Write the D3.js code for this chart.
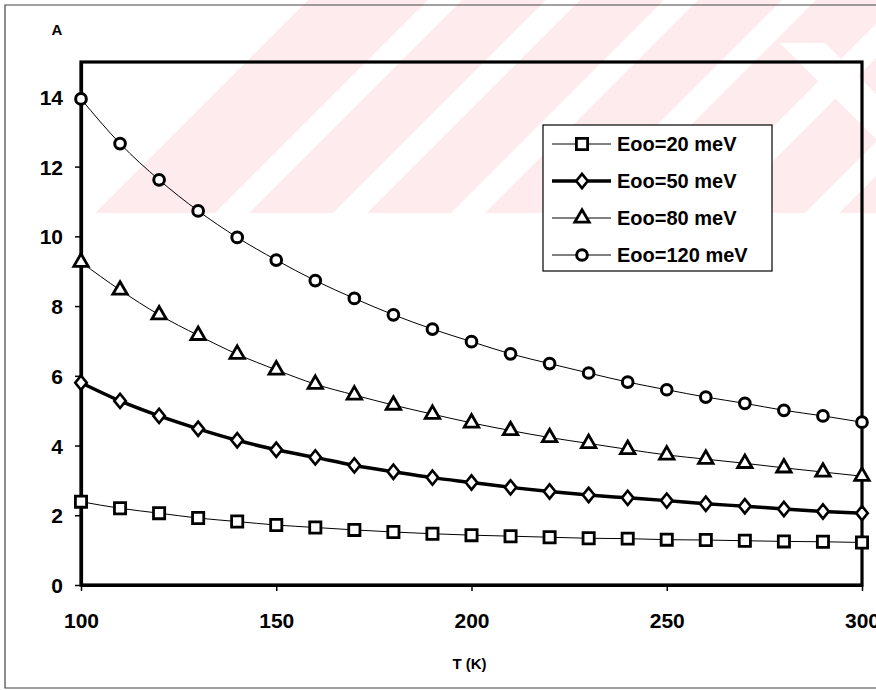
<!DOCTYPE html>
<html>
<head>
<meta charset="utf-8">
<script src="https://cdn.jsdelivr.net/npm/d3@7"></script>
<style>
  html, body { margin: 0; padding: 0; background: #fff; }
  svg { display: block; font-family: "Liberation Sans", Arial, sans-serif; }
</style>
</head>
<body>
<svg id="chart" width="876" height="690"></svg>
<script>
// Temperature grid (K)
const temps = [100, 110, 120, 130, 140, 150, 160, 170, 180, 190, 200,
               210, 220, 230, 240, 250, 260, 270, 280, 290, 300];

// A versus T for each characteristic energy Eoo
const a20  = [2.39, 2.20, 2.06, 1.92, 1.82, 1.72, 1.65, 1.58, 1.52, 1.47, 1.43,
              1.40, 1.37, 1.34, 1.33, 1.30, 1.29, 1.27, 1.25, 1.24, 1.22];
const a50  = [5.80, 5.28, 4.85, 4.48, 4.15, 3.88, 3.66, 3.43, 3.25, 3.08, 2.94,
              2.80, 2.68, 2.58, 2.50, 2.42, 2.33, 2.26, 2.18, 2.11, 2.06];
const a80  = [9.26, 8.46, 7.75, 7.16, 6.62, 6.17, 5.76, 5.45, 5.16, 4.90, 4.65,
              4.43, 4.23, 4.06, 3.89, 3.73, 3.61, 3.49, 3.36, 3.24, 3.12];
const a120 = [13.94, 12.66, 11.62, 10.73, 9.97, 9.32, 8.73, 8.22, 7.75, 7.34, 6.98,
              6.63, 6.35, 6.08, 5.82, 5.60, 5.39, 5.21, 5.01, 4.85, 4.67];

const seriesNames = ["Eoo=20 meV", "Eoo=50 meV", "Eoo=80 meV", "Eoo=120 meV"];
const seriesValues = [a20, a50, a80, a120];
const seriesSymbols = ["square", "diamond", "triangle", "circle"];

const xTicks = [100, 150, 200, 250, 300];
const yTicks = [0, 2, 4, 6, 8, 10, 12, 14];
const xTitle = "T (K)";
const panelLabel = "A";

const svg = d3.select("#chart");
const W = 876, H = 690;
const plot = { left: 81, right: 862, top: 62, bottom: 585 };

// Faint background emblem: pale red field with diagonal white gaps
const bandH = 213;
const wm = svg.append("g");
const pink = "#fdebee";
wm.append("path")
  .attr("d", `M95,${bandH} L${95 + bandH},0 L${W},0 L${W},${bandH} Z`)
  .attr("fill", pink);
// "/" gaps
for (let k = 0; k < 7; k++) {
  const x0 = 215 + k * 118;
  const w = 34;
  wm.append("path")
    .attr("d", `M${x0},${bandH} L${x0 + w},${bandH} L${x0 + w + bandH},0 L${x0 + bandH},0 Z`)
    .attr("fill", "#fff");
}
// "\" gap on the right
[[780, 43]].forEach(([gx0, gy0]) => {
  const w = 45;
  const len = 400;
  wm.append("path")
    .attr("d", `M${gx0},${gy0} L${gx0 + w},${gy0} L${gx0 + w + len},${gy0 + len} L${gx0 + len},${gy0 + len} Z`)
    .attr("fill", "#fff");
});
// keep it inside the band
wm.append("rect").attr("x", 0).attr("y", bandH).attr("width", W).attr("height", H - bandH).attr("fill", "#fff");

// Outer frame
svg.append("path")
  .attr("d", `M${W + 2},5 L5,5 L5,688 L${W + 2},688`)
  .attr("fill", "none").attr("stroke", "#444").attr("stroke-width", 1.2);

const x = d3.scaleLinear().domain([100, 300]).range([plot.left, plot.right]);
const y = d3.scaleLinear().domain([0, 15]).range([plot.bottom, plot.top]);

// Plot frame
svg.append("rect")
  .attr("x", plot.left).attr("y", plot.top)
  .attr("width", plot.right - plot.left).attr("height", plot.bottom - plot.top)
  .attr("fill", "none").attr("stroke", "#000").attr("stroke-width", 3.2);

// Axes
const xAxis = d3.axisBottom(x).tickValues(xTicks).tickSize(6).tickSizeOuter(0).tickFormat(d3.format("d"));
const yAxis = d3.axisLeft(y).tickValues(yTicks).tickSize(6).tickSizeOuter(0).tickFormat(d3.format("d"));

const gx = svg.append("g").attr("transform", `translate(0,${plot.bottom})`).call(xAxis);
const gy = svg.append("g").attr("transform", `translate(${plot.left},0)`).call(yAxis);
[gx, gy].forEach(g => {
  g.select(".domain").attr("stroke", "#000").attr("stroke-width", 3.2);
  g.selectAll(".tick line").attr("stroke", "#000").attr("stroke-width", 1.5);
  g.selectAll(".tick text")
    .attr("fill", "#000")
    .style("font-family", "'Liberation Sans', Arial, sans-serif")
    .style("font-weight", "bold")
    .style("font-size", "21px");
});
gx.selectAll(".tick text").attr("dy", null).attr("y", 43);
gy.selectAll(".tick text").attr("x", -18).attr("dy", "0.36em");

svg.append("text")
  .attr("x", (plot.left + plot.right) / 2 - 2).attr("y", 669)
  .attr("text-anchor", "middle")
  .style("font-weight", "bold").style("font-size", "15px")
  .text(xTitle);

svg.append("text")
  .attr("x", 57).attr("y", 35)
  .attr("text-anchor", "middle")
  .style("font-weight", "bold").style("font-size", "15px")
  .text(panelLabel);

// Series styling
const lineWidths = [1, 3.5, 1, 1];
const diamond = {
  draw(ctx, size) {
    const w = Math.sqrt(size) * 0.55, h = Math.sqrt(size) * 0.68;
    ctx.moveTo(0, -h); ctx.lineTo(w, 0); ctx.lineTo(0, h); ctx.lineTo(-w, 0); ctx.closePath();
  }
};
const symbolFor = {
  square: d3.symbol().type(d3.symbolSquare).size(125),
  diamond: d3.symbol().type(diamond).size(110),
  triangle: d3.symbol().type(d3.symbolTriangle).size(90),
  circle: d3.symbol().type(d3.symbolCircle).size(90)
};
const symbolStroke = [2.8, 2.6, 2.8, 3];

const line = d3.line()
  .x((d, i) => x(temps[i]))
  .y(d => y(d))
  .curve(d3.curveMonotoneX);

const series = svg.append("g");
seriesValues.forEach((vals, si) => {
  series.append("path")
    .datum(vals)
    .attr("d", line)
    .attr("fill", "none")
    .attr("stroke", "#000")
    .attr("stroke-width", lineWidths[si]);
});
seriesValues.forEach((vals, si) => {
  series.append("g")
    .selectAll("path")
    .data(vals)
    .join("path")
    .attr("transform", (d, i) => `translate(${x(temps[i])},${y(d)})`)
    .attr("d", symbolFor[seriesSymbols[si]])
    .attr("fill", "#fff")
    .attr("stroke", "#000")
    .attr("stroke-width", symbolStroke[si]);
});

// Legend
const lg = { x: 543, y: 125, w: 229, h: 146 };
svg.append("rect")
  .attr("x", lg.x).attr("y", lg.y).attr("width", lg.w).attr("height", lg.h)
  .attr("fill", "#fff").attr("stroke", "#000").attr("stroke-width", 1.2);

const legendRows = svg.append("g");
seriesNames.forEach((name, si) => {
  const cy = 144 + si * 37;
  const row = legendRows.append("g");
  row.append("line")
    .attr("x1", 552).attr("x2", 611).attr("y1", cy).attr("y2", cy)
    .attr("stroke", "#000").attr("stroke-width", lineWidths[si]);
  row.append("path")
    .attr("transform", `translate(582,${cy})`)
    .attr("d", symbolFor[seriesSymbols[si]])
    .attr("fill", "#fff").attr("stroke", "#000").attr("stroke-width", symbolStroke[si]);
  row.append("text")
    .attr("x", 617).attr("y", cy).attr("dy", "0.36em")
    .style("font-weight", "bold").style("font-size", "20px")
    .text(name);
});
</script>
</body>
</html>
